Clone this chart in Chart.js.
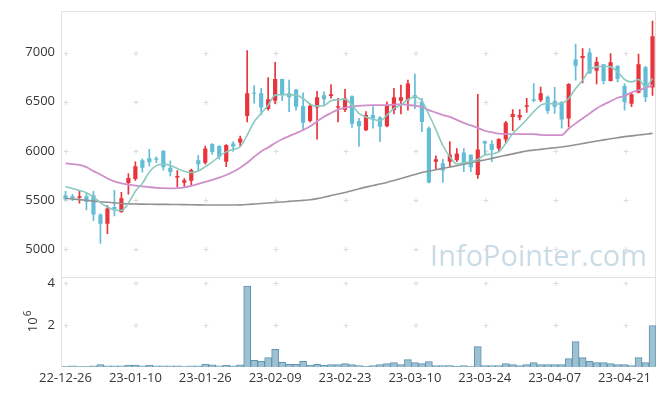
<!DOCTYPE html>
<html>
<head>
<meta charset="utf-8">
<title>price chart</title>
<script src="https://cdn.jsdelivr.net/npm/chart.js@4.4.1/dist/chart.umd.min.js"></script>
<style>
  body { margin: 0; background: #fff; }
</style>
</head>
<body>
<canvas id="chart" width="665" height="396"></canvas>
<script>
// trading days
const dates = ['22-12-26','22-12-27','22-12-28','22-12-29','23-01-02','23-01-03','23-01-04','23-01-05','23-01-06','23-01-09',
  '23-01-10','23-01-11','23-01-12','23-01-13','23-01-16','23-01-17','23-01-18','23-01-19','23-01-20','23-01-25',
  '23-01-26','23-01-27','23-01-30','23-01-31','23-02-01','23-02-02','23-02-03','23-02-06','23-02-07','23-02-08',
  '23-02-09','23-02-10','23-02-13','23-02-14','23-02-15','23-02-16','23-02-17','23-02-20','23-02-21','23-02-22',
  '23-02-23','23-02-24','23-02-27','23-02-28','23-03-02','23-03-03','23-03-06','23-03-07','23-03-08','23-03-09',
  '23-03-10','23-03-13','23-03-14','23-03-15','23-03-16','23-03-17','23-03-20','23-03-21','23-03-22','23-03-23',
  '23-03-24','23-03-27','23-03-28','23-03-29','23-03-30','23-03-31','23-04-03','23-04-04','23-04-05','23-04-06',
  '23-04-07','23-04-10','23-04-11','23-04-12','23-04-13','23-04-14','23-04-17','23-04-18','23-04-19','23-04-20',
  '23-04-21','23-04-24','23-04-25','23-04-26','23-04-27'];

const open = [5550,5540,5525,5540,5550,5355,5260,5430,5380,5675, 5715,5905,5925,5925,6000,5830,5731,5676,5697,5905,
  5880,6070,6050,5890,6075,6085,6355,6590,6585,6425, 6510,6730,6585,6625,6455,6305,6440,6565,6557,6442,
  6415,6555,6305,6210,6365,6340,6250,6415,6510,6515, 6565,6500,6230,5890,5875,5890,5905,5985,5960,5755,
  6100,6070,6025,6115,6345,6340,6450,6525,6515,6550, 6505,6500,6330,6930,6945,7000,6815,6880,6710,6865,
  6660,6480,6590,6850,6645];
const high = [5590,5560,5590,5570,5590,5360,5445,5600,5580,5770, 5890,5920,6015,5940,6005,5900,5800,5720,5815,5955,
  6050,6075,6055,6065,6095,6150,7020,6665,6635,6745, 6900,6730,6720,6625,6590,6480,6605,6600,6675,6535,
  6625,6560,6330,6400,6450,6350,6500,6635,6670,6720, 6780,6535,6245,5950,5915,6095,6025,6025,5960,6575,
  6100,6105,6125,6300,6420,6420,6535,6685,6650,6560, 6645,6500,6685,7085,7040,7040,6950,6880,6990,6865,
  6685,6590,6985,6860,7320];
const low = [5500,5495,5470,5400,5290,5060,5160,5340,5375,5560, 5700,5785,5845,5880,5805,5745,5635,5640,5650,5800,
  5865,5965,5915,5840,5995,6045,6295,6485,6365,6415, 6480,6510,6400,6415,6210,6295,6120,6455,6535,6295,
  6400,6240,6045,6205,6230,6095,6245,6375,6375,6415, 6430,6195,5675,5810,5680,5835,5890,5790,5790,5720,
  5970,5890,5990,6085,6205,6315,6390,6500,6500,6380, 6380,6230,6245,6720,6690,6785,6680,6680,6710,6700,
  6415,6450,6590,6500,6565];
const close = [5510,5520,5540,5480,5355,5260,5415,5410,5520,5725, 5845,5830,5885,5910,5835,5785,5744,5703,5805,5865,
  6025,5990,5940,6060,6045,6125,6585,6580,6440,6525, 6730,6565,6545,6450,6285,6460,6545,6525,6577,6455,
  6535,6275,6250,6365,6330,6245,6460,6545,6545,6685, 6535,6295,5680,5915,5800,5960,5975,5865,5835,6015,
  6075,6010,6120,6290,6375,6365,6465,6510,6585,6405, 6450,6320,6680,6865,6965,6790,6905,6710,6900,6730,
  6500,6575,6880,6545,7165];

// moving averages as drawn
const ma5 = [5637,5618,5598,5575,5530,5475,5430,5400,5395,5470, 5590,5670,5785,5850,5866,5852,5822,5793,5780,5795,
  5840,5885,5945,5990,6015,6042,6161,6296,6381,6465, 6567,6574,6570,6567,6533,6476,6455,6462,6510,6520,
  6526,6465,6381,6345,6323,6306,6364,6432,6465,6523, 6550,6507,6370,6217,6055,5941,5867,5880,5890,5914,
  5958,5968,5992,6076,6178,6245,6320,6398,6465,6482, 6476,6482,6533,6635,6719,6821,6854,6861,6854,6804,
  6726,6702,6726,6651,6736];
const ma20 = [5873,5866,5858,5835,5795,5760,5720,5690,5670,5657, 5648,5640,5632,5625,5621,5620,5622,5630,5645,5665,
  5685,5705,5728,5755,5789,5830,5880,5940,5995,6035, 6080,6118,6150,6180,6212,6250,6300,6347,6385,6420,
  6438,6452,6458,6462,6465,6465,6466,6470,6474,6466, 6460,6445,6415,6390,6365,6345,6315,6285,6260,6235,
  6205,6190,6175,6171,6171,6171,6171,6171,6163,6160, 6160,6161,6225,6280,6330,6380,6432,6470,6505,6540,
  6560,6595,6615,6640,6668];
const ma60 = [5518,5512,5505,5498,5490,5484,5478,5472,5466,5462, 5460,5459,5458,5457,5457,5456,5455,5454,5453,5452,
  5451,5450,5450,5450,5450,5452,5456,5461,5466,5471, 5476,5481,5487,5492,5497,5503,5515,5530,5546,5562,
  5578,5595,5615,5632,5648,5663,5680,5700,5720,5740, 5760,5781,5795,5808,5822,5836,5850,5865,5880,5895,
  5908,5924,5940,5955,5970,5985,6000,6008,6016,6024, 6032,6040,6050,6062,6075,6088,6100,6112,6123,6134,
  6145,6153,6161,6170,6178];

const volume = [20000,60000,20000,20000,60000,110000,60000,60000,60000,90000, 90000,60000,90000,60000,60000,60000,60000,20000,60000,60000,
  140000,100000,60000,80000,60000,100000,3870000,320000,272000,448000, 848000,224000,128000,128000,272000,80000,128000,80000,112000,112000,
  160000,112000,64000,32000,64000,112000,160000,208000,112000,352000, 208000,160000,256000,64000,64000,64000,32000,64000,16000,976000,
  64000,64000,64000,160000,112000,64000,112000,208000,112000,112000, 112000,112000,400000,1216000,448000,272000,208000,208000,160000,112000,
  112000,64000,448000,208000,1984000];

// tick values
const priceTicks = [5000, 5500, 6000, 6500, 7000];
const volTicks = [2000000, 4000000];

const UP = '#e8343c';
const DOWN = '#63bdd7';
const candleColors = close.map((c, i) => c >= open[i] ? UP : DOWN);

Chart.defaults.font.family = "'Open Sans', sans-serif";
Chart.defaults.font.size = 13;
Chart.defaults.color = '#363636';

// frame, little crosses on tick intersections, watermark
const frame = {
  id: 'frame',
  beforeDatasetsDraw(chart) {
    const { ctx, chartArea: a, scales } = chart;
    const sep = scales.y.bottom;
    ctx.save();

    ctx.fillStyle = '#c9dbe5';
    let size = 30;
    ctx.font = size + "px 'Open Sans'";
    size = size * 217 / ctx.measureText('InfoPointer.com').width;
    ctx.font = size + "px 'Open Sans'";
    ctx.textAlign = 'right';
    ctx.textBaseline = 'alphabetic';
    ctx.fillText('InfoPointer.com', a.right - 9, sep - 11);

    ctx.strokeStyle = '#e2e2e2';
    ctx.lineWidth = 1;
    ctx.beginPath();
    ctx.moveTo(a.left - 0.5, a.top + 0.5);
    ctx.lineTo(a.right - 0.5, a.top + 0.5);
    ctx.lineTo(a.right - 0.5, a.bottom - 0.5);
    ctx.lineTo(a.left - 0.5, a.bottom - 0.5);
    ctx.closePath();
    ctx.moveTo(a.left, Math.round(sep) + 0.5);
    ctx.lineTo(a.right, Math.round(sep) + 0.5);
    ctx.stroke();

    const xs = dates.map((d, i) => i).filter(i => i % 10 === 0).map(i => scales.x.getPixelForValue(i));
    const ys = priceTicks.map(v => scales.y.getPixelForValue(v))
      .concat(volTicks.map(v => scales.v.getPixelForValue(v)));
    ctx.strokeStyle = '#dcdcdc';
    ctx.beginPath();
    xs.forEach(x => {
      ys.forEach(y => {
        const px = Math.round(x) + 0.5, py = Math.round(y) + 0.5;
        ctx.moveTo(px - 2, py); ctx.lineTo(px + 3, py);
        ctx.moveTo(px + 0.5, py - 2.5); ctx.lineTo(px + 0.5, py + 2.5);
      });
    });
    ctx.stroke();

    // 10^6 unit label of the volume axis
    const midY = (scales.v.top + scales.v.bottom) / 2;
    ctx.translate(37, midY + 10);
    ctx.rotate(-Math.PI / 2);
    ctx.textAlign = 'left';
    ctx.fillStyle = '#363636';
    ctx.font = "13px 'Open Sans'";
    ctx.fillText('10', 0, 0);
    const w = ctx.measureText('10').width;
    ctx.font = "10px 'Open Sans'";
    ctx.fillText('6', w + 1, -6);
    ctx.restore();
  }
};

// fixed axis sizes, no extra label padding
const fitLeft = s => { s.width = 62; s.paddingTop = 0; s.paddingBottom = 0; };

new Chart(document.getElementById('chart'), {
  type: 'bar',
  data: {
    labels: dates,
    datasets: [
      { type: 'line', data: ma5, yAxisID: 'y', borderColor: '#8ac9c0', borderWidth: 1.6,
        pointRadius: 0, cubicInterpolationMode: 'monotone', order: 0 },
      { type: 'line', data: ma20, yAxisID: 'y', borderColor: '#cf8fcb', borderWidth: 1.8,
        pointRadius: 0, cubicInterpolationMode: 'monotone', order: 0 },
      { type: 'line', data: ma60, yAxisID: 'y', borderColor: '#929292', borderWidth: 1.6,
        pointRadius: 0, cubicInterpolationMode: 'monotone', order: 0 },
      // wicks
      { data: high.map((h, i) => [low[i], h]), yAxisID: 'y', backgroundColor: candleColors,
        barThickness: 1, grouped: false, order: 2 },
      // bodies
      { data: open.map((o, i) => [o, close[i]]), yAxisID: 'y', backgroundColor: candleColors,
        barPercentage: 0.6, categoryPercentage: 1, minBarLength: 1, grouped: false, order: 1 },
      // volume
      { data: volume, yAxisID: 'v', backgroundColor: '#9dc1d2', borderColor: '#5e94ae', borderWidth: 1,
        barPercentage: 1, categoryPercentage: 1, grouped: false, order: 1 }
    ]
  },
  options: {
    responsive: false,
    animation: false,
    devicePixelRatio: 1,
    layout: { padding: { left: 0, top: 11, right: 9, bottom: 0 } },
    plugins: { legend: { display: false }, tooltip: { enabled: false } },
    scales: {
      x: {
        grid: { display: false, drawTicks: false },
        border: { display: false },
        ticks: {
          autoSkip: false, maxRotation: 0, padding: 3,
          callback: function(val, idx) { return idx % 10 === 0 ? dates[idx] : null; }
        },
        afterFit: s => { s.height = 29; }
      },
      v: {
        position: 'left', stack: 'panels', stackWeight: 90,
        min: 0, max: 4290000,
        grid: { display: false, drawTicks: false },
        border: { display: false },
        afterBuildTicks: s => { s.ticks = volTicks.map(v => ({ value: v })); },
        ticks: { padding: 7, callback: v => v / 1000000 },
        afterFit: fitLeft
      },
      y: {
        position: 'left', stack: 'panels', stackWeight: 267,
        min: 4716, max: 7422,
        grid: { display: false, drawTicks: false },
        border: { display: false },
        afterBuildTicks: s => { s.ticks = priceTicks.map(v => ({ value: v })); },
        ticks: { padding: 7, callback: v => String(v) },
        afterFit: fitLeft
      }
    }
  },
  plugins: [frame]
});
</script>
</body>
</html>
